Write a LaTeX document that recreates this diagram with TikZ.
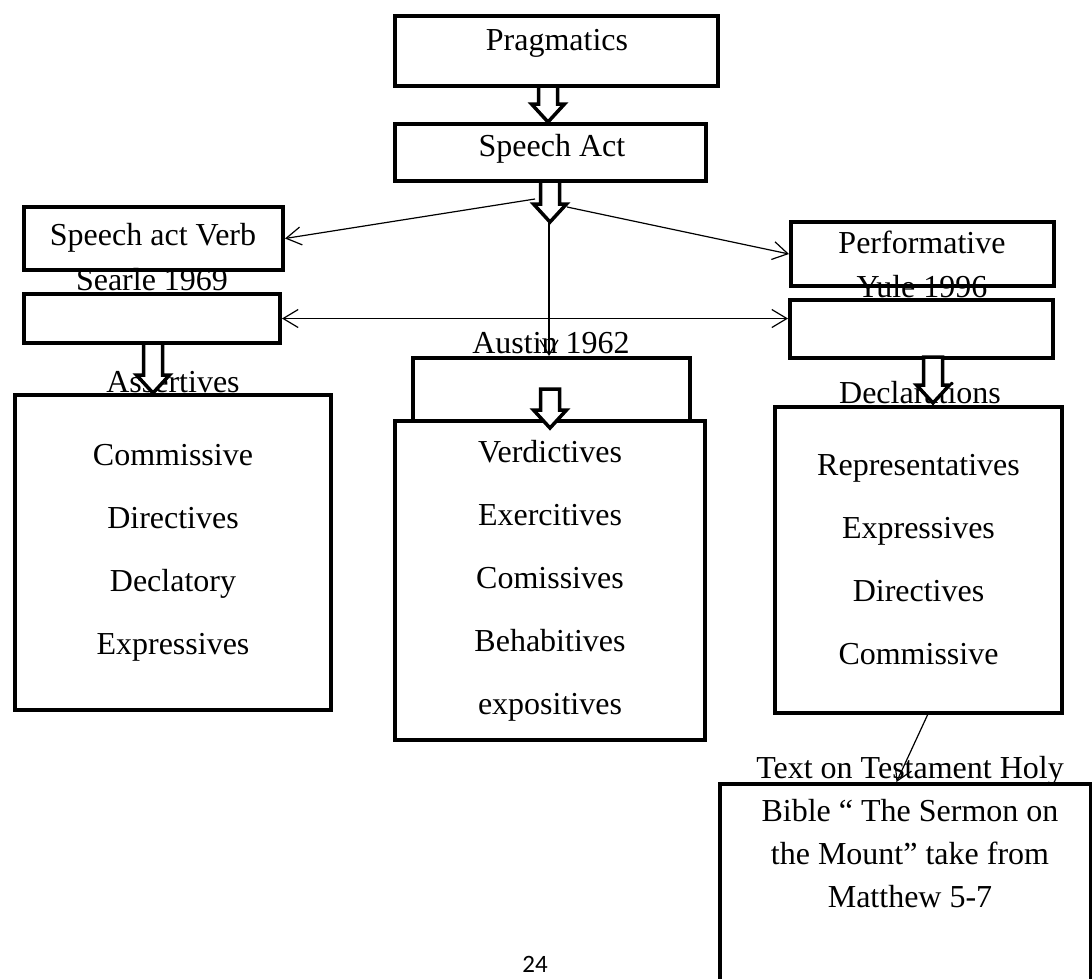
\documentclass[tikz,border=0pt]{standalone}
\usepackage{fontspec}
\setmainfont{Liberation Serif}
\newfontfamily\pagenumfont{Carlito}
\usetikzlibrary{arrows.meta}

\begin{document}
\begin{tikzpicture}[x=1pt,y=-1pt,>={Straight Barb[length=15pt,width=18pt]},
  thin line/.style={line width=1.2pt},
  box/.style={draw,line width=4pt,inner sep=0pt,outer sep=2pt},
  boxtext/.style={font=\fontsize{32}{38}\selectfont,anchor=base,inner sep=0pt},
  list/.style={align=center,font=\fontsize{32}{63}\selectfont},
  pics/fatarrow/.style={code={
    \draw[line width=3.5pt,fill=white,line join=miter]
      (-9.5,0) -- (-9.5,#1-18) -- (-16.5,#1-18) -- (0,#1)
      -- (16.5,#1-18) -- (9.5,#1-18) -- (9.5,0) -- cycle;}}]

  \clip (0,0) rectangle (1092,978);

  % texts
  \node[boxtext] (tPrag) at (557,50) {Pragmatics};
  \node[boxtext] (tSpeech) at (552,156) {Speech Act};
  \node[boxtext] (tVerb) at (153,245) {Speech act Verb};
  \node[boxtext] (tSearle) at (152,290) {Searle 1969};
  \node[boxtext] (tAssert) at (173,392) {Assertives};
  \node[boxtext] (tAustin) at (551,353) {Austin 1962};
  \node[boxtext] (tPerf) at (922,253) {Performative};
  \node[boxtext] (tYule) at (922,297) {Yule 1996};
  \node[boxtext] (tDecl) at (920,403) {Declarations};
  \node[font=\fontsize{32}{43}\selectfont,align=center,anchor=north,inner sep=0pt] (tSermon) at (910,756)
    {Text on Testament Holy\\Bible “ The Sermon on\\the Mount” take from\\Matthew 5-7};
  \node[font=\pagenumfont\fontsize{25}{30}\selectfont,anchor=base,inner sep=0pt] (pageno) at (535,972) {24};

  % boxes
  \node[box,minimum width=323pt,minimum height=70pt] (prag) at (556.5,51) {};
  \node[box,minimum width=311pt,minimum height=57pt] (speech) at (550.5,152.5) {};
  \node[box,minimum width=259pt,minimum height=63pt] (verb) at (153.5,238.5) {};
  \node[box,minimum width=256pt,minimum height=49pt] (searle) at (152,318.5) {};
  \node[box,list,minimum width=316pt,minimum height=315pt] (searleList) at (173,552.5)
    {Commissive\\Directives\\Declatory\\Expressives};
  \node[box,minimum width=277pt,minimum height=63pt] (austin) at (551.5,389.5) {};
  \node[box,list,minimum width=310pt,minimum height=319pt] (austinList) at (550,580.5)
    {Verdictives\\Exercitives\\Comissives\\Behabitives\\expositives};
  \node[box,minimum width=263pt,minimum height=64pt] (perf) at (922.5,254) {};
  \node[box,minimum width=263pt,minimum height=58pt] (yule) at (921.5,329) {};
  \node[box,list,minimum width=287pt,minimum height=306pt] (yuleList) at (918.5,560)
    {Representatives\\Expressives\\Directives\\Commissive};
  \node[box,minimum width=371pt,minimum height=226pt] (sermon) at (905.5,897) {};

  \coordinate (splitL) at (535,199);
  \coordinate (splitR) at (567,207);
  \coordinate (splitM) at (549,222);

  \path[->,thin line]
    (splitL) edge (verb.east)
    (splitR) edge (perf.west)
    (splitM) edge (splitM |- austin.north)
    ([xshift=9pt]yuleList.south) edge ([xshift=-9pt]sermon.north);
  \path[<->,thin line]
    (searle.east) edge (searle.east -| yule.west);

  \pic (arrPrag) at (548,86) {fatarrow=36};
  \pic (arrSpeech) at (550,181) {fatarrow=41};
  \pic (arrSearle) at (153,343) {fatarrow=50};
  \pic (arrAustin) at (550,389) {fatarrow=39};
  \pic (arrYule) at (933,357) {fatarrow=46};

\end{tikzpicture}
\end{document}
